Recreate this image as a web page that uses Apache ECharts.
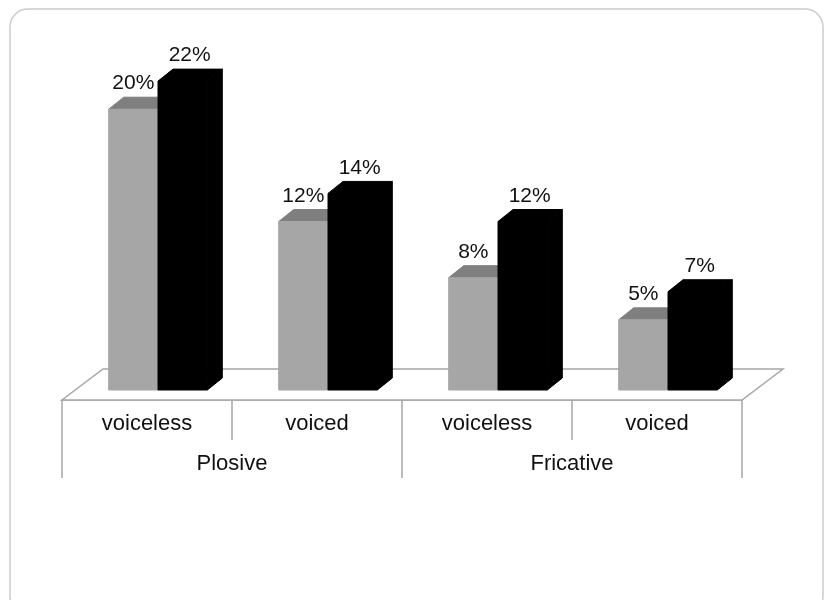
<!DOCTYPE html>
<html>
<head>
<meta charset="utf-8">
<script src="https://cdn.jsdelivr.net/npm/echarts@6/dist/echarts.min.js"></script>
<style>
  html, body { margin: 0; padding: 0; background: #ffffff; }
  #chart { width: 824px; height: 600px; }
</style>
</head>
<body>
<div id="chart"></div>
<script>
// Sub-categories along the floor, and the groups beneath them
const categories = ['voiceless', 'voiced', 'voiceless', 'voiced'];
const groups = ['Plosive', 'Fricative'];
// Percentages per sub-category (light and dark columns)
const valuesLight = [20, 12, 8, 5];
const valuesDark = [22, 14, 12, 7];

const FONT = '"Liberation Sans", Arial, sans-serif';
const TEXT_COLOR = '#111111';
const AXIS_COLOR = '#a6a6a6';
const DEPTH_X = 15, DEPTH_Y = 12;   // depth offset of each column
const FLOOR_X = 41, FLOOR_Y = 31;   // depth offset of the floor

// A 3D-looking column: front face, top face and right side face
function column(x0, yTop, yBase, w, colors, labelText, labelX) {
  const dx = DEPTH_X, dy = DEPTH_Y;
  const face = (c) => ({ fill: c, stroke: c, lineWidth: 1 });
  return {
    type: 'group',
    children: [
      {
        type: 'polygon',
        shape: { points: [[x0 + w, yTop], [x0 + w + dx, yTop - dy], [x0 + w + dx, yBase - dy], [x0 + w, yBase]] },
        style: face(colors.side)
      },
      {
        type: 'polygon',
        shape: { points: [[x0, yTop], [x0 + dx, yTop - dy], [x0 + w + dx, yTop - dy], [x0 + w, yTop]] },
        style: face(colors.top)
      },
      {
        type: 'rect',
        shape: { x: x0, y: yTop, width: w, height: yBase - yTop },
        style: face(colors.front)
      },
      {
        type: 'text',
        style: {
          text: labelText, x: labelX, y: yTop - dy - 3,
          align: 'center', verticalAlign: 'bottom',
          font: '21px ' + FONT, fill: TEXT_COLOR
        }
      }
    ]
  };
}

function columnRenderer(side, colors, labelShift) {
  return function (params, api) {
    const cat = api.value(0);
    const v = api.value(1);
    const top = api.coord([cat, v]);
    const base = api.coord([cat, 0]);
    const w = api.size([1, 0])[0] * 0.29;
    const x0 = side === 0 ? top[0] - w : top[0];
    return column(x0, top[1], base[1], w, colors, v + '%', x0 + w / 2 + labelShift);
  };
}

// Floor parallelogram under the columns
function floorRenderer(params) {
  const cs = params.coordSys;
  const xl = cs.x, xr = cs.x + cs.width, yf = cs.y + cs.height;
  return {
    type: 'polygon',
    shape: { points: [[xl, yf], [xl + FLOOR_X, yf - FLOOR_Y], [xr + FLOOR_X, yf - FLOOR_Y], [xr, yf]] },
    style: { fill: '#ffffff', stroke: AXIS_COLOR, lineWidth: 1.5 }
  };
}

const chart = echarts.init(document.getElementById('chart'), null, { renderer: 'canvas' });

chart.setOption({
  animation: false,
  backgroundColor: '#ffffff',
  graphic: [{
    type: 'rect',
    z: -10,
    shape: { x: 10, y: 9, width: 813, height: 605, r: 18 },
    style: { fill: '#ffffff', stroke: '#cccccc', lineWidth: 1.5 }
  }],
  grid: [
    // columns: value 0 sits on the front face baseline
    { left: 73, width: 680, top: 39, height: 351 },
    // floor front edge and category axis
    { left: 62, width: 680, top: 100, height: 300 }
  ],
  xAxis: [
    { gridIndex: 0, type: 'category', data: categories, show: false },
    {
      gridIndex: 1, type: 'category', data: categories, position: 'bottom',
      axisLine: { show: true, lineStyle: { color: AXIS_COLOR, width: 1.5 } },
      axisTick: { show: true, length: 40, lineStyle: { color: AXIS_COLOR, width: 1.5 } },
      axisLabel: { margin: 13, color: TEXT_COLOR, fontFamily: FONT, fontSize: 22 }
    },
    {
      gridIndex: 1, type: 'category', data: groups, position: 'bottom', offset: 40,
      axisLine: { show: false },
      axisTick: { show: true, length: 38, lineStyle: { color: AXIS_COLOR, width: 1.5 } },
      axisLabel: { margin: 13, color: TEXT_COLOR, fontFamily: FONT, fontSize: 22 }
    }
  ],
  yAxis: [
    { gridIndex: 0, type: 'value', min: 0, max: 25, show: false, splitLine: { show: false } },
    { gridIndex: 1, type: 'value', min: 0, max: 1, show: false, splitLine: { show: false } }
  ],
  series: [
    {
      type: 'custom', name: 'floor', xAxisIndex: 1, yAxisIndex: 1, z: 1,
      data: [[0, 0]], renderItem: floorRenderer, silent: true
    },
    {
      type: 'custom', name: 'light', xAxisIndex: 0, yAxisIndex: 0, z: 2,
      data: valuesLight.map((v, i) => [i, v]),
      renderItem: columnRenderer(0, { front: '#a6a6a6', top: '#7f7f7f', side: '#8c8c8c' }, 0)
    },
    {
      type: 'custom', name: 'dark', xAxisIndex: 0, yAxisIndex: 0, z: 3,
      data: valuesDark.map((v, i) => [i, v]),
      renderItem: columnRenderer(1, { front: '#000000', top: '#000000', side: '#000000' }, 7)
    }
  ]
});
</script>
</body>
</html>
